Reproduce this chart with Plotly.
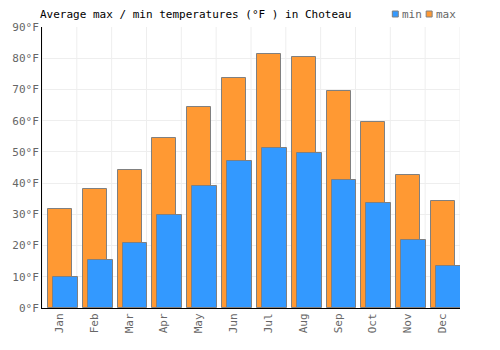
import plotly.graph_objects as go

months = ["Jan", "Feb", "Mar", "Apr", "May", "Jun", "Jul", "Aug", "Sep", "Oct", "Nov", "Dec"]
max_temps = [31.6, 38.1, 44.2, 54.5, 64.3, 73.6, 81.3, 80.3, 69.5, 59.6, 42.6, 34.2]
min_temps = [9.8, 15.3, 20.7, 29.7, 39.1, 47.1, 51.2, 49.6, 41.0, 33.5, 21.7, 13.4]
y_ticks = [0, 10, 20, 30, 40, 50, 60, 70, 80, 90]
y_labels = [f"{v}°F" for v in y_ticks]
legend_names = ["min", "max"]
legend_colors = ["#3399FF", "#FF9933"]

FONT = "DejaVu Sans Mono"
W, H = 500, 350

fig = go.Figure()
fig.add_trace(go.Bar(
    x=months, y=max_temps, name="max",
    marker=dict(color="#FF9933", line=dict(color="#808080", width=1)),
    offset=-0.33, width=0.69, showlegend=False,
))
fig.add_trace(go.Bar(
    x=months, y=min_temps, name="min",
    marker=dict(color="#3399FF", line=dict(color="#808080", width=1)),
    offset=-0.186, width=0.714, showlegend=False,
))

fig.update_layout(
    width=W, height=H,
    margin=dict(l=40, r=40, t=27, b=42),
    barmode="overlay",
    paper_bgcolor="white", plot_bgcolor="white",
    font=dict(family=FONT, size=11, color="#666666"),
    title=dict(text="Average max / min temperatures (°F ) in Choteau",
               x=40/W, xanchor="left", y=1-14/H, yanchor="middle",
               font=dict(family=FONT, size=11, color="black")),
    showlegend=False,
    bargap=0,
)

# custom compact legend (square swatches + labels)
legend_x = [392, 426]
for name, color, lx in zip(legend_names, legend_colors, legend_x):
    fig.add_shape(type="rect", xref="paper", yref="paper",
                  x0=(lx - 40) / 420, x1=(lx + 6 - 40) / 420,
                  y0=1 + (27 - 17) / 281, y1=1 + (27 - 11) / 281,
                  fillcolor=color, line=dict(color="#808080", width=1))
    fig.add_annotation(xref="paper", yref="paper",
                       x=(lx + 8 - 40) / 420, y=1 + (27 - 14) / 281,
                       xanchor="left", yanchor="middle", showarrow=False,
                       text=name, font=dict(family=FONT, size=11, color="#666666"))

fig.update_xaxes(
    type="category", tickangle=-90, showgrid=False,
    showline=True, linecolor="black", linewidth=1,
    ticks="", tickfont=dict(family=FONT, size=11, color="#666666"),
    range=[-0.5, 11.5],
)
for i in range(len(months) + 1):
    fig.add_shape(type="line", xref="x", yref="paper", x0=i - 0.5, x1=i - 0.5, y0=0, y1=1,
                  line=dict(color="#eeeeee", width=1), layer="below")
fig.update_yaxes(
    range=[0, 90], tickvals=y_ticks, ticktext=y_labels,
    showgrid=True, gridcolor="#eeeeee", gridwidth=1,
    showline=True, linecolor="black", linewidth=1,
    zeroline=False, ticks="",
    tickfont=dict(family=FONT, size=11, color="#666666"),
)

fig.write_html("out.html")
